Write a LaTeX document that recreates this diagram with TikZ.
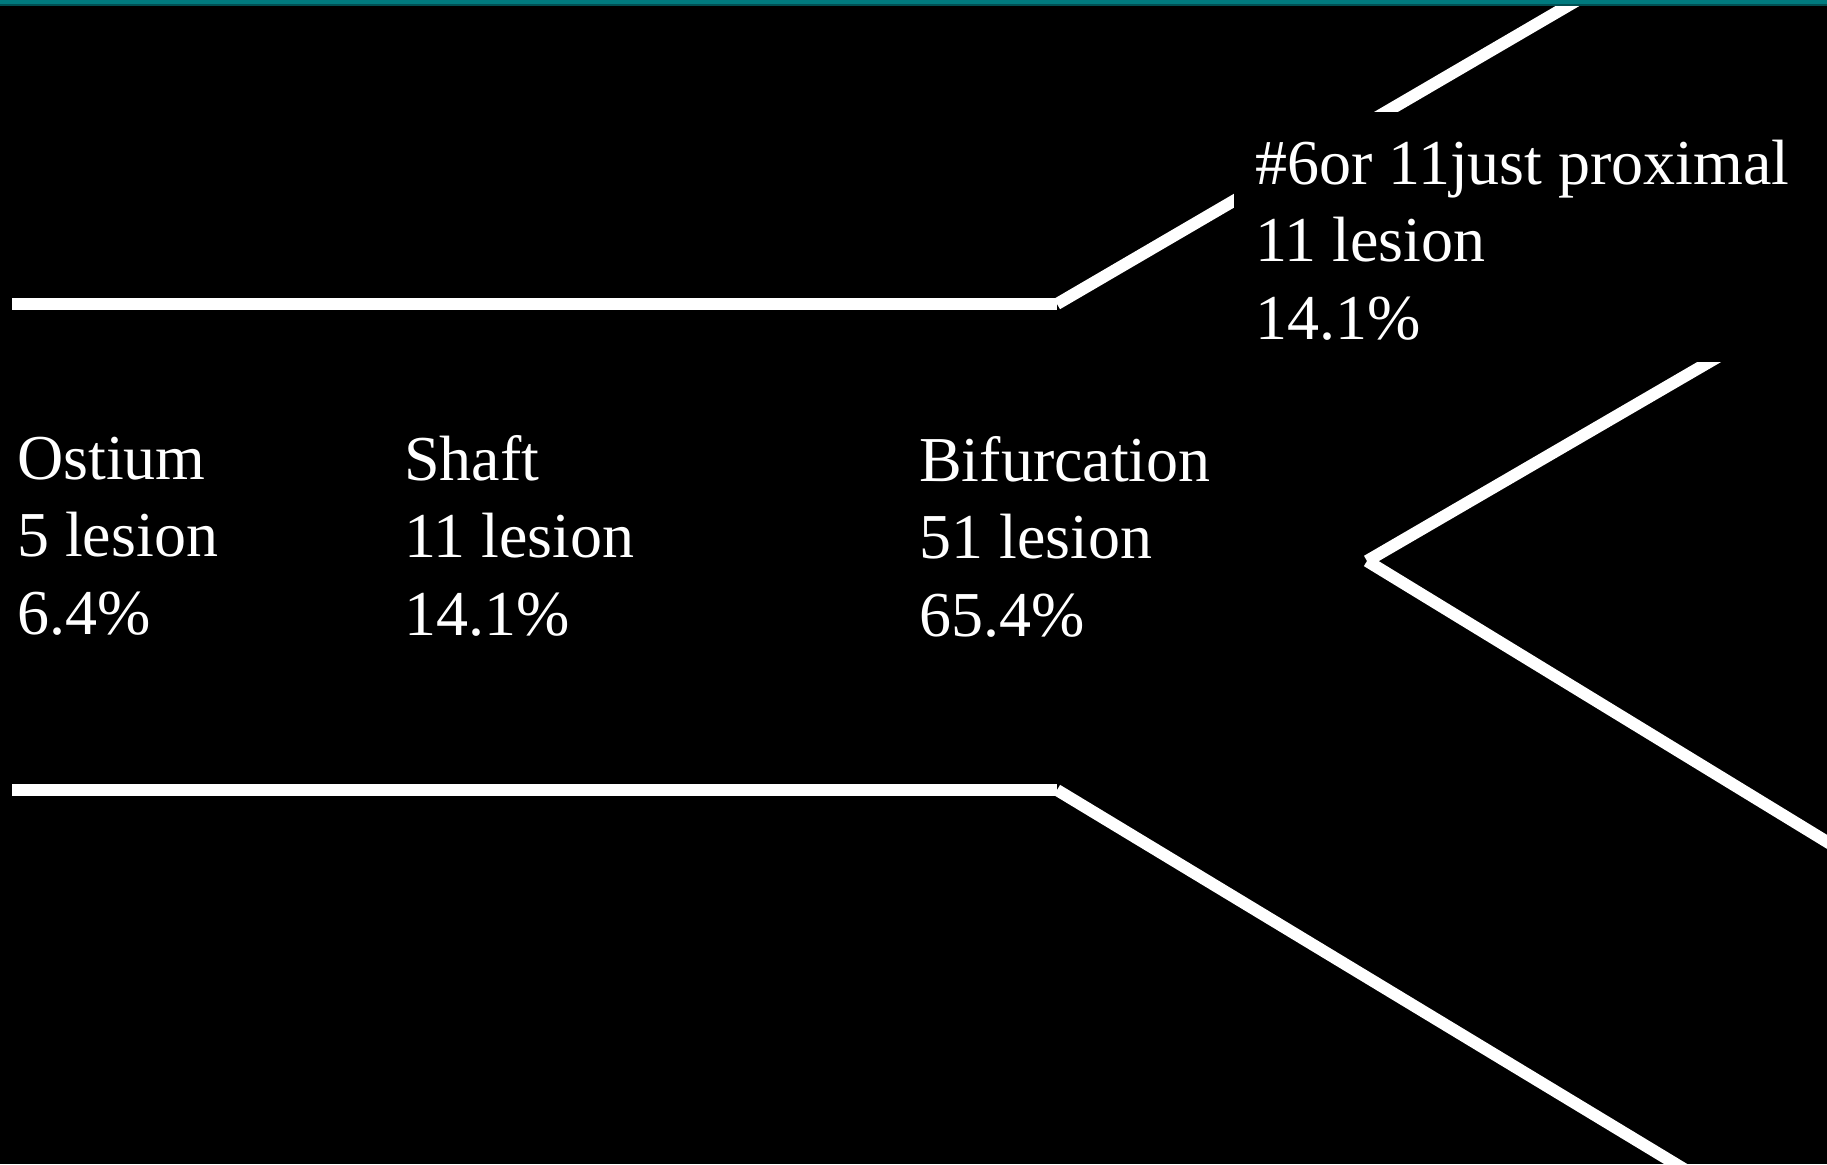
\documentclass[tikz,border=0pt]{standalone}
\usepackage{fontspec}
\setmainfont{Liberation Serif}
\definecolor{tealbar}{HTML}{007A7E}
\definecolor{tealdark}{HTML}{004F52}
\begin{document}
\begin{tikzpicture}[x=1pt,y=-1pt,
  vessel/.style={draw=white,line width=12pt,line cap=butt},
  lbl/.style={text=white,font=\fontsize{64}{77.5}\selectfont,align=left,inner sep=0pt,anchor=base west}]
\useasboundingbox (0,0) rectangle (1827,1164);
\fill[black] (0,0) rectangle (1827,1164);
% coordinates
\coordinate (ul) at (12,304);
\coordinate (ub) at (1057,304);
\coordinate (ue) at (1612,-20);
\coordinate (ll) at (12,790);
\coordinate (lb) at (1057,790);
\coordinate (le) at (1722,1192);
\coordinate (vx) at (1367,561);
\coordinate (va) at (1747,340);
\coordinate (vb) at (1860,862);
\begin{scope}
\clip (0,7) rectangle (1827,1164);
\draw[vessel] (ul) -- (ub);
\draw[vessel] (ub) -- (ue);
\draw[vessel] (ll) -- (lb);
\draw[vessel] (lb) -- (le);
\draw[vessel] (vx) -- (va);
\draw[vessel] (vx) -- (vb);
\end{scope}
\fill[black] (1234,112) rectangle (1827,362);
\fill[tealbar] (0,0) rectangle (1827,5);
\fill[tealdark] (0,4.5) rectangle (1827,6);
\node[lbl] (prox) at (1255,339) {\#6or 11just proximal\\11 lesion\\14.1\%};
\node[lbl] (ost) at (17,634) {Ostium\\5 lesion\\6.4\%};
\node[lbl] (shaft) at (404,635) {Shaft\\11 lesion\\14.1\%};
\node[lbl] (bif) at (919,636) {Bifurcation\\51 lesion\\65.4\%};
\end{tikzpicture}
\end{document}
